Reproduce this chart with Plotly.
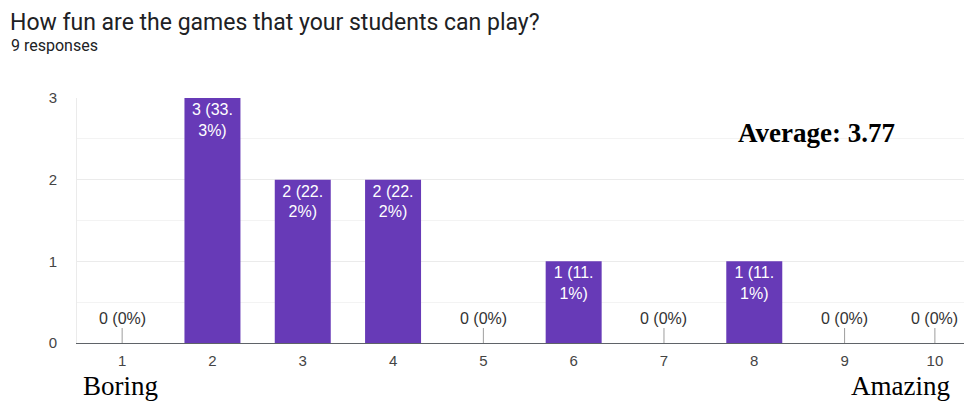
import plotly.graph_objects as go

categories = [1, 2, 3, 4, 5, 6, 7, 8, 9, 10]
counts = [0, 3, 2, 2, 0, 1, 0, 1, 0, 0]
total_responses = 9
title_text = "How fun are the games that your students can play?"
subtitle_text = "9 responses"
average_text = "Average: 3.77"
low_label = "Boring"
high_label = "Amazing"

BAR = "#673ab7"
OFF = 8  # page body margin of the browser
W, H = 972 - OFF, 405 - OFF
L, R, T, B = 77 - OFF, 1, 98 - OFF, 62
PW, PH = W - L - R, H - T - B
FONT = "Roboto, Arial, sans-serif"
CHART = "Liberation Sans, Arial, sans-serif"
SERIF = "Liberation Serif, Times New Roman, serif"


def label(v):
    if v == 0:
        return "0 (0%)"
    pct = 100.0 * v / total_responses
    s = f"{v} ({pct:.1f}%)"
    head, tail = s.split(".", 1)
    return head + ".<br>" + tail


def pxx(x):
    return (x - OFF - L) / PW


def pyy(y):
    return (H - B - (y - OFF)) / PH


nz_x = [c for c, v in zip(categories, counts) if v > 0]
nz_y = [v for v in counts if v > 0]
nz_t = [label(v) for v in nz_y]

fig = go.Figure()
fig.add_trace(go.Bar(
    x=nz_x, y=nz_y, text=nz_t, width=0.62,
    marker=dict(color=BAR, line=dict(width=0)),
    textposition="inside", insidetextanchor="end",
    textfont=dict(family=CHART, size=16, color="white"),
    textangle=0, hoverinfo="skip",
))

for c, v in zip(categories, counts):
    if v == 0:
        fig.add_annotation(
            x=c, y=0, xref="x", yref="y", text=label(v),
            showarrow=True, arrowhead=0, arrowwidth=1, arrowcolor="#9e9e9e",
            ax=0, ay=-25, standoff=0,
            font=dict(family=CHART, size=16, color="#333333"),
        )

fig.add_annotation(x=pxx(9), y=1 + T / PH, xref="paper", yref="paper", text=title_text,
                   showarrow=False, xanchor="left", yanchor="top", borderpad=0,
                   font=dict(family=FONT, size=23, color="#202124"))
fig.add_annotation(x=pxx(9), y=pyy(45), xref="paper", yref="paper", text=subtitle_text,
                   showarrow=False, xanchor="left", yanchor="middle",
                   font=dict(family=FONT, size=16, color="#202124"))
fig.add_annotation(x=pxx(816), y=pyy(133), xref="paper", yref="paper", text="<b>" + average_text + "</b>",
                   showarrow=False, xanchor="center", yanchor="middle",
                   font=dict(family=SERIF, size=27, color="black"))
fig.add_annotation(x=pxx(120), y=pyy(386), xref="paper", yref="paper", text=low_label,
                   showarrow=False, xanchor="center", yanchor="middle",
                   font=dict(family=SERIF, size=27, color="black"))
fig.add_annotation(x=pxx(900), y=pyy(386), xref="paper", yref="paper", text=high_label,
                   showarrow=False, xanchor="center", yanchor="middle",
                   font=dict(family=SERIF, size=27, color="black"))

fig.update_layout(
    width=W, height=H,
    margin=dict(l=L, r=R, t=T, b=B, autoexpand=False),
    paper_bgcolor="white", plot_bgcolor="white",
    showlegend=False,
    xaxis=dict(
        range=[0.5, 10.4], tickmode="array", tickvals=categories,
        ticktext=[str(c) for c in categories],
        showgrid=False, zeroline=False, showline=True, linecolor="#5f6368", linewidth=1,
        ticks="", ticklabelstandoff=4, automargin=False,
        tickfont=dict(family=CHART, size=15, color="#444444"),
        fixedrange=True,
    ),
    yaxis=dict(
        range=[0, 3], tickvals=[0, 1, 2, 3], showgrid=True, gridcolor="#ebebeb",
        zeroline=False, showline=True, linecolor="#ebebeb", linewidth=1,
        ticks="", ticklabelstandoff=16, automargin=False,
        tickfont=dict(family=CHART, size=15, color="#444444"),
        minor=dict(dtick=0.5, showgrid=True, gridcolor="#f3f3f3"),
        fixedrange=True,
    ),
)

fig.write_html("out.html")
